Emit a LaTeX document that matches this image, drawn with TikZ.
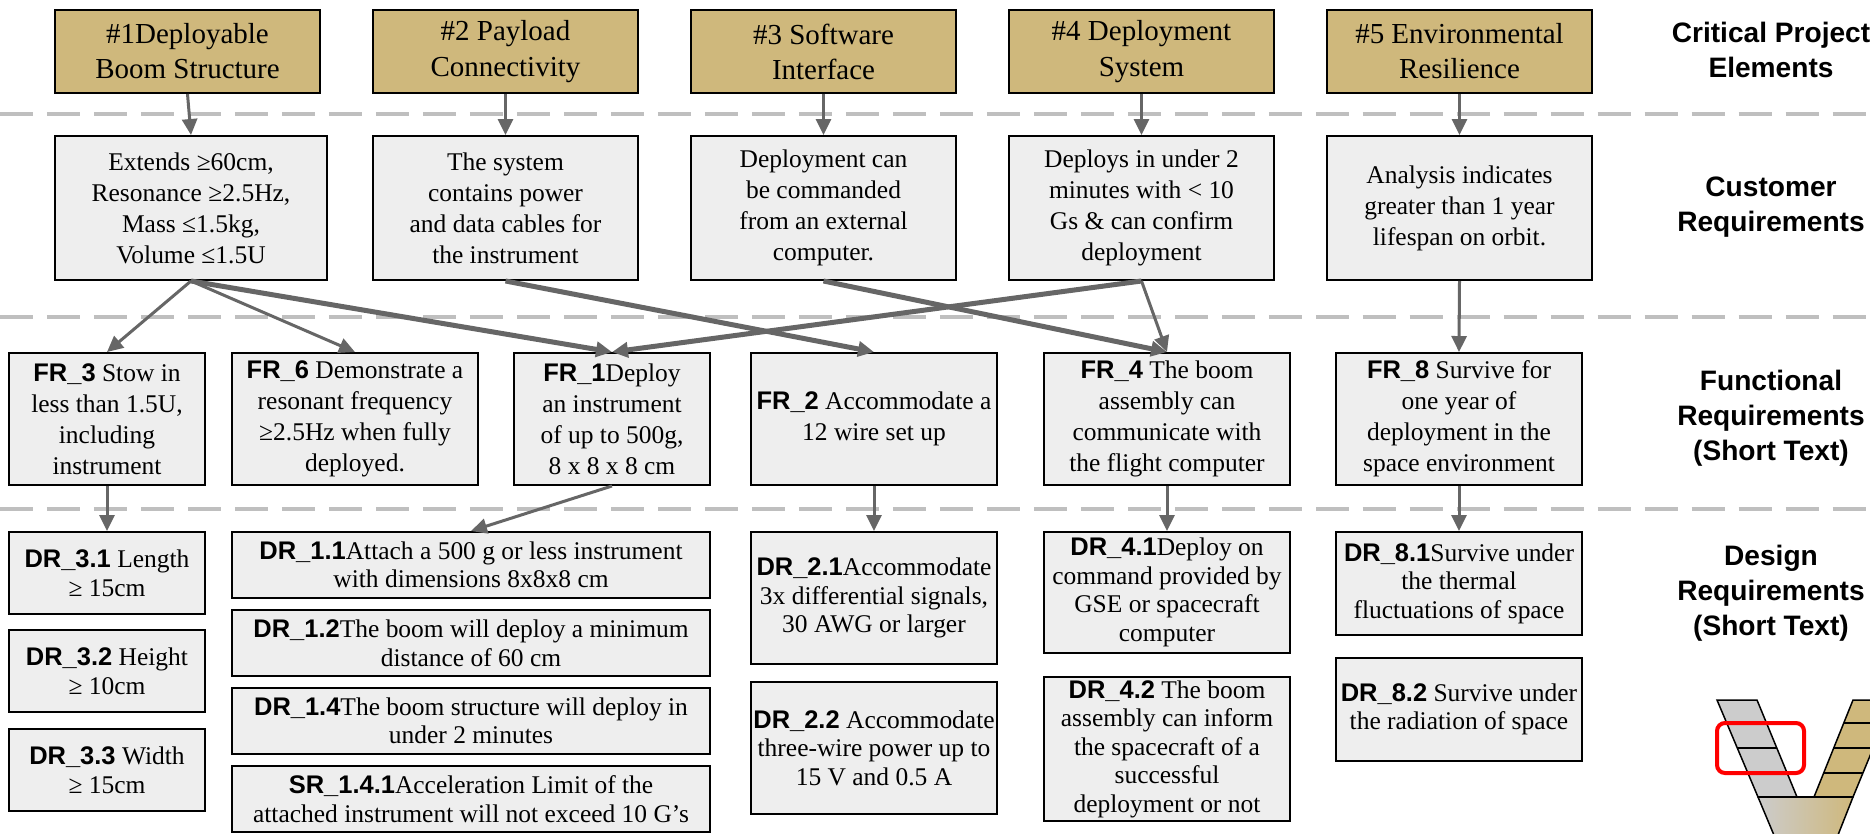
\documentclass[tikz,border=0pt]{standalone}
\usepackage{fontspec}
\setmainfont{Liberation Serif}
\setsansfont{Liberation Sans}
\usetikzlibrary{arrows.meta}
\definecolor{oroCU}{HTML}{CFB87C}
\definecolor{grisCaja}{HTML}{EEEEEE}
\definecolor{grisSep}{HTML}{BFBFBF}
\definecolor{grisFlecha}{HTML}{666666}
\definecolor{grisV}{HTML}{CCCCCC}
\newcommand{\reqid}[1]{{\sffamily\bfseries #1}}

\begin{document}
\begin{tikzpicture}[x=0.02cm,y=-0.02cm,
    every node/.style={align=center,inner sep=0pt},
    caja/.style={draw=black,line width=0.04cm,fill=grisCaja,font=\fontsize{14.5}{17.6}\selectfont},
    cajaDR/.style={caja,font=\fontsize{14.5}{16.2}\selectfont},
    cpe/.style={caja,fill=oroCU,font=\fontsize{16.5}{20}\selectfont,minimum width=5.3cm,minimum height=1.66cm},
    fila/.style={font=\sffamily\bfseries\fontsize{16}{19.9}\selectfont},
    sep/.style={grisSep,line width=0.08cm,dash pattern=on 0.66cm off 0.28cm},
    flecha/.style={grisFlecha,line width=0.06cm,-{Triangle[length=0.32cm,width=0.3cm]}},
    flechaG/.style={flecha,line width=0.1cm}]
    \useasboundingbox (0,0) rectangle (1870,833);
    % separadores
    \draw[sep] (0,114) -- (1870,114);
    \draw[sep] (0,317) -- (1870,317);
    \draw[sep] (0,509) -- (1870,509);
    % elementos criticos
    \node[cpe] (cpe1) at (187.5,51.5) {\#1Deployable\\Boom Structure};
    \node[cpe] (cpe2) at (505.5,51.5) {\#2 Payload\\Connectivity};
    \node[cpe] (cpe3) at (823.5,51.5) {\#3 Software\\Interface};
    \node[cpe] (cpe4) at (1141.5,51.5) {\#4 Deployment\\System};
    \node[cpe] (cpe5) at (1459.5,51.5) {\#5 Environmental\\Resilience};
    % requisitos del cliente
    \node[caja,minimum width=5.44cm,minimum height=2.88cm] (cr1) at (191,208)
      {Extends ≥60cm,\\Resonance ≥2.5Hz,\\Mass ≤1.5kg,\\Volume ≤1.5U};
    \node[caja,minimum width=5.3cm,minimum height=2.88cm] (cr2) at (505.5,208)
      {The system\\contains power\\and data cables for\\the instrument};
    \node[caja,minimum width=5.3cm,minimum height=2.88cm] (cr3) at (823.5,208)
      {Deployment can\\be commanded\\from an external\\computer.};
    \node[caja,minimum width=5.3cm,minimum height=2.88cm] (cr4) at (1141.5,208)
      {Deploys in under 2\\minutes with < 10\\Gs \& can confirm\\deployment};
    \node[caja,minimum width=5.3cm,minimum height=2.88cm] (cr5) at (1459.5,208)
      {Analysis indicates\\greater than 1 year\\lifespan on orbit.};
    % requisitos funcionales
    \node[caja,minimum width=3.92cm,minimum height=2.64cm] (fr3) at (107,419)
      {\reqid{FR\_3} Stow in\\less than 1.5U,\\including\\instrument};
    \node[caja,minimum width=4.92cm,minimum height=2.64cm] (fr6) at (355,419)
      {\reqid{FR\_6} Demonstrate a\\resonant frequency\\≥2.5Hz when fully\\deployed.};
    \node[caja,minimum width=3.92cm,minimum height=2.64cm] (fr1) at (612,419)
      {\reqid{FR\_1}Deploy\\an instrument\\of up to 500g,\\8 x 8 x 8 cm};
    \node[caja,minimum width=4.92cm,minimum height=2.64cm] (fr2) at (874,419)
      {\reqid{FR\_2} Accommodate a\\12 wire set up};
    \node[caja,minimum width=4.92cm,minimum height=2.64cm] (fr4) at (1167,419)
      {\reqid{FR\_4} The boom\\assembly can\\communicate with\\the flight computer};
    \node[caja,minimum width=4.92cm,minimum height=2.64cm] (fr8) at (1459,419)
      {\reqid{FR\_8} Survive for\\one year of\\deployment in the\\space environment};
    % requisitos de diseno
    \node[cajaDR,minimum width=3.92cm,minimum height=1.64cm] (dr31) at (107,573)
      {\reqid{DR\_3.1} Length\\≥ 15cm};
    \node[cajaDR,minimum width=3.92cm,minimum height=1.64cm] (dr32) at (107,671)
      {\reqid{DR\_3.2} Height\\≥ 10cm};
    \node[cajaDR,minimum width=3.92cm,minimum height=1.64cm] (dr33) at (107,770)
      {\reqid{DR\_3.3} Width\\≥ 15cm};
    \node[cajaDR,minimum width=9.56cm,minimum height=1.32cm] (dr11) at (471,565)
      {\reqid{DR\_1.1}Attach a 500 g or less instrument\\with dimensions 8x8x8 cm};
    \node[cajaDR,minimum width=9.56cm,minimum height=1.32cm] (dr12) at (471,643)
      {\reqid{DR\_1.2}The boom will deploy a minimum\\distance of 60 cm};
    \node[cajaDR,minimum width=9.56cm,minimum height=1.32cm] (dr14) at (471,721)
      {\reqid{DR\_1.4}The boom structure will deploy in\\under 2 minutes};
    \node[cajaDR,minimum width=9.56cm,minimum height=1.32cm] (sr141) at (471,799)
      {\reqid{SR\_1.4.1}Acceleration Limit of the\\attached instrument will not exceed 10 G's};
    \node[cajaDR,minimum width=4.92cm,minimum height=2.64cm] (dr21) at (874,598)
      {\reqid{DR\_2.1}Accommodate\\3x differential signals,\\30 AWG or larger};
    \node[cajaDR,minimum width=4.92cm,minimum height=2.64cm] (dr22) at (874,748)
      {\reqid{DR\_2.2} Accommodate\\three-wire power up to\\15 V and 0.5 A};
    \node[cajaDR,minimum width=4.92cm,minimum height=2.42cm] (dr41) at (1167,592.5)
      {\reqid{DR\_4.1}Deploy on\\command provided by\\GSE or spacecraft\\computer};
    \node[cajaDR,minimum width=4.92cm,minimum height=2.88cm] (dr42) at (1167,749)
      {\reqid{DR\_4.2} The boom\\assembly can inform\\the spacecraft of a\\successful\\deployment or not};
    \node[cajaDR,minimum width=4.92cm,minimum height=2.06cm] (dr81) at (1459,583.5)
      {\reqid{DR\_8.1}Survive under\\the thermal\\fluctuations of space};
    \node[cajaDR,minimum width=4.92cm,minimum height=2.06cm] (dr82) at (1459,709.5)
      {\reqid{DR\_8.2} Survive under\\the radiation of space};
    % rotulos de fila
    \node[fila] (lbl1) at (1771,50) {Critical Project\\Elements};
    \node[fila] (lbl2) at (1771,207) {Customer\\Requirements};
    \node[fila] (lbl3) at (1771,418) {Functional\\Requirements\\(Short Text)};
    \node[fila] (lbl4) at (1771,593) {Design\\Requirements\\(Short Text)};
    % flechas
    \draw[flecha] (cpe1.south) -- (cr1.north);
    \draw[flecha] (cpe2.south) -- (cr2.north);
    \draw[flecha] (cpe3.south) -- (cr3.north);
    \draw[flecha] (cpe4.south) -- (cr4.north);
    \draw[flecha] (cpe5.south) -- (cr5.north);
    \draw[flecha] (cr1.south) -- (fr3.north);
    \draw[flecha] (cr1.south) -- (fr6.north);
    \draw[flechaG] (cr1.south) -- (fr1.north);
    \draw[flechaG] (cr4.south) -- (fr1.north);
    \draw[flechaG] (cr2.south) -- (fr2.north);
    \draw[flechaG] (cr3.south) -- (fr4.north);
    \draw[flecha] (cr4.south) -- (fr4.north);
    \draw[flecha] (cr5.south) -- (fr8.north);
    \draw[flecha] (fr3.south) -- (dr31.north);
    \draw[flecha] (fr1.south) -- (dr11.north);
    \draw[flecha] (fr2.south) -- (dr21.north);
    \draw[flecha] (fr4.south) -- (dr41.north);
    \draw[flecha] (fr8.south) -- (dr81.north);
    % icono V
    \begin{scope}
      \clip (0,0) rectangle (1870,833);
      \shade[left color=grisV,right color=oroCU] (1758,797) -- (1853,797) -- (1836,840) -- (1776,840) -- cycle;
      \draw[line width=0.03cm] (1758,797) -- (1776,840) (1853,797) -- (1836,840);
      \filldraw[fill=grisV,line width=0.03cm] (1717,700) -- (1757,700) -- (1797,797) -- (1758,797) -- cycle;
      \filldraw[fill=oroCU,line width=0.03cm] (1853,700) -- (1893,700) -- (1853,797) -- (1814,797) -- cycle;
      \draw[line width=0.05cm] (1737.3,748) -- (1776.8,748);
      \draw[line width=0.05cm] (1843.8,723) -- (1883.5,723) (1833.7,748) -- (1873.2,748) (1823.6,773) -- (1862.9,773);
      \draw[line width=0.05cm] (1758,797) -- (1853,797);
      \draw[red,line width=0.08cm,rounded corners=0.16cm] (1717,723) rectangle (1804,773);
    \end{scope}
\end{tikzpicture}
\end{document}
